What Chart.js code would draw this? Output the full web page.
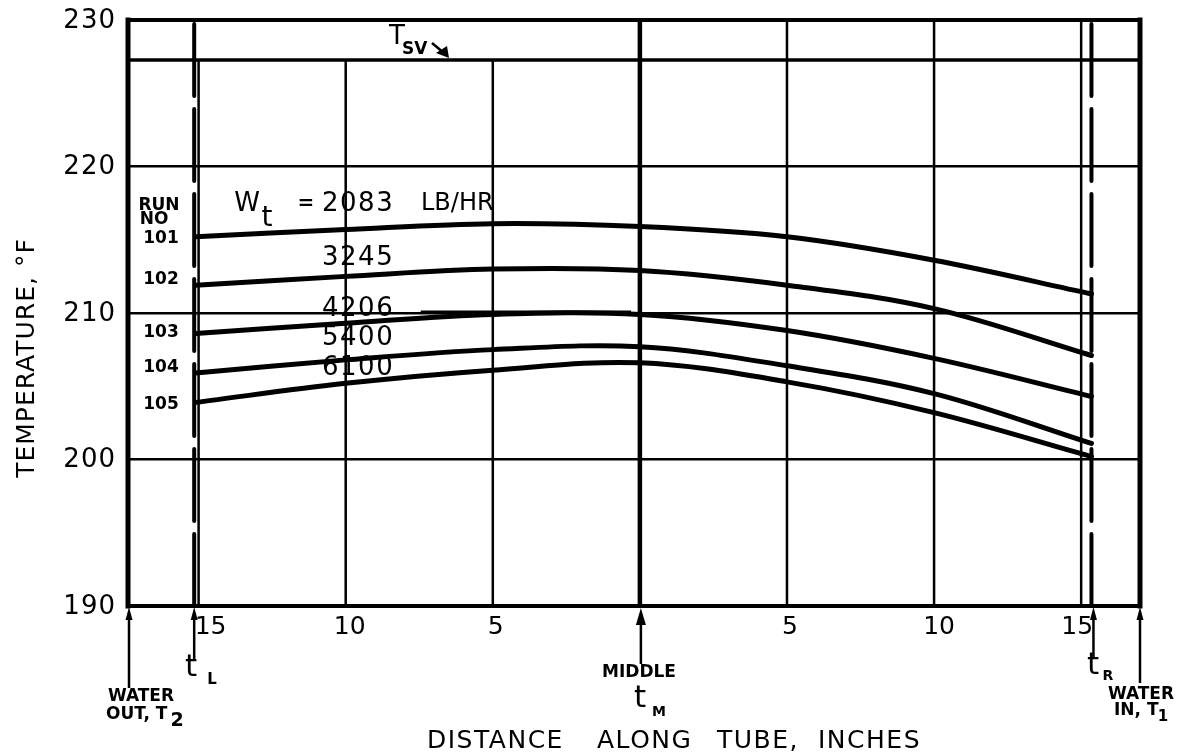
<!DOCTYPE html>
<html>
<head>
<meta charset="utf-8">
<title>Temperature along tube</title>
<style>
  html, body { margin: 0; padding: 0; background: #fff; }
  #wrap { width: 1178px; height: 756px; position: relative; }
</style>
<script src="https://cdn.jsdelivr.net/npm/chart.js@4.4.1/dist/chart.umd.min.js"></script>
</head>
<body>
<div id="wrap"><canvas id="chart" width="1178" height="756"></canvas></div>
<script>
// Distance from the middle of the tube, inches (negative = water-out end)
const distances = [-15.1, -10, -5, 0, 5, 10, 15.35];

// Water temperature along the tube, deg F, one array per run
const run101 = [215.2, 215.7, 216.1, 215.9, 215.2, 213.6, 211.3];
const run102 = [211.9, 212.5, 213.0, 212.9, 211.9, 210.3, 207.1];
const run103 = [208.6, 209.3, 209.9, 209.9, 208.8, 206.9, 204.3];
const run104 = [205.9, 206.8, 207.5, 207.7, 206.4, 204.5, 201.1];
const run105 = [203.9, 205.2, 206.1, 206.6, 205.3, 203.2, 200.2];

const runNumbers = ['101', '102', '103', '104', '105'];
const flowRates = ['2083', '3245', '4206', '5400', '6100'];

// Axis ticks
const tempTicks = [190, 200, 210, 220, 230];
const distTicks = [-15, -10, -5, 5, 10, 15];

// Saturated vapour temperature and thermocouple stations
const tSV = 227.27;
const tL = -15.15;
const tR = 15.35;
const xMin = -17.4;
const xMax = 17.0;
const yMin = 190;
const yMax = 230;

// Vertical guide lines: [distance, top temperature]
const guideLines = [[-15, tSV], [-10, tSV], [-5, tSV], [5, yMax], [10, yMax], [15, yMax]];

const FONT = '"DejaVu Sans", "Liberation Sans", sans-serif';

function curve(values) {
  return {
    data: distances.map((d, i) => ({ x: d, y: values[i] })),
    borderColor: '#000',
    borderWidth: 5,
    pointRadius: 0,
    tension: 0.35,
    borderCapStyle: 'round',
    borderJoinStyle: 'round',
    clip: false,
    order: 1
  };
}

function straight(points, width, dash) {
  return {
    data: points.map(p => ({ x: p[0], y: p[1] })),
    borderColor: '#000',
    borderWidth: width,
    borderDash: dash || [],
    borderCapStyle: dash ? 'round' : 'butt',
    pointRadius: 0,
    tension: 0,
    clip: false,
    order: 2
  };
}

const datasets = [
  ...guideLines.map(g => straight([[g[0], yMin], [g[0], g[1]]], 2.5)),
  straight([[0, yMin], [0, yMax]], 4.5),
  straight([[xMin, tSV], [xMax, tSV]], 3.5),
  straight([[tL, yMin], [tL, yMax]], 4, [72, 13]),
  straight([[tR, yMin], [tR, yMax]], 4, [72, 13]),
  // leader from the 4206 label
  straight([[-7.45, 210.05], [-0.3, 210.05]], 3.5),
  curve(run101), curve(run102), curve(run103), curve(run104), curve(run105)
];

function text(ctx, s, x, y, size, opts) {
  opts = opts || {};
  ctx.font = (opts.bold ? 'bold ' : '') + size + 'px ' + FONT;
  ctx.letterSpacing = (opts.ls || 0) + 'px';
  ctx.textAlign = opts.align || 'center';
  ctx.textBaseline = 'middle';
  ctx.fillText(s, x, y);
}

function arrowUp(ctx, x, yTip, yTail, headLen, headW) {
  ctx.lineWidth = 2.5;
  ctx.beginPath();
  ctx.moveTo(x, yTail);
  ctx.lineTo(x, yTip + headLen - 2);
  ctx.stroke();
  ctx.beginPath();
  ctx.moveTo(x, yTip);
  ctx.lineTo(x - headW / 2, yTip + headLen);
  ctx.lineTo(x + headW / 2, yTip + headLen);
  ctx.closePath();
  ctx.fill();
}

const annotations = {
  id: 'annotations',
  afterDraw(chart) {
    const { ctx, chartArea: a, scales } = chart;
    const X = v => scales.x.getPixelForValue(v);
    const Y = v => scales.y.getPixelForValue(v);
    ctx.save();
    ctx.strokeStyle = '#000';
    ctx.fillStyle = '#000';

    // frame
    ctx.lineCap = 'square';
    ctx.lineWidth = 4;
    ctx.beginPath();
    ctx.moveTo(a.left, a.top); ctx.lineTo(a.right, a.top);
    ctx.moveTo(a.left, a.bottom); ctx.lineTo(a.right, a.bottom);
    ctx.stroke();
    ctx.lineWidth = 5;
    ctx.beginPath();
    ctx.moveTo(a.left, a.top); ctx.lineTo(a.left, a.bottom);
    ctx.moveTo(a.right, a.top); ctx.lineTo(a.right, a.bottom);
    ctx.stroke();
    ctx.lineCap = 'butt';

    // temperature tick labels
    tempTicks.forEach(t => text(ctx, String(t), 116, Y(t) + 1, 26, { align: 'right', ls: 1 }));

    // distance tick labels (absolute distance from the middle)
    const nudge = { '-15': 12, '-10': 4, '-5': 3, '5': 3, '10': 5, '15': -4 };
    distTicks.forEach(d => text(ctx, String(Math.abs(d)), X(d) + nudge[d], a.bottom + 21, 25));

    // axis titles
    ctx.save();
    ctx.translate(27, 358);
    ctx.rotate(-Math.PI / 2);
    text(ctx, 'TEMPERATURE, \u00B0F', 0, 0, 25, { ls: 1 });
    ctx.restore();
    const words = [['DISTANCE', 427], ['ALONG', 597], ['TUBE,', 717], ['INCHES', 818]];
    words.forEach(w => text(ctx, w[0], w[1], 741, 25, { align: 'left', ls: 1.5 }));

    // saturated vapour label
    text(ctx, 'T', 397, 37, 26);
    text(ctx, 'SV', 402, 50, 17, { bold: true, align: 'left' });
    ctx.lineWidth = 2.5;
    ctx.beginPath();
    ctx.moveTo(432, 43); ctx.lineTo(444, 53);
    ctx.stroke();
    ctx.beginPath();
    ctx.moveTo(449, Y(tSV) - 2); ctx.lineTo(436, 53); ctx.lineTo(447, 46);
    ctx.closePath(); ctx.fill();

    // run numbers
    text(ctx, 'RUN', 159, 206, 17, { bold: true });
    text(ctx, 'NO', 154, 220, 17, { bold: true });
    const runY = [239, 280, 333, 368, 405];
    runNumbers.forEach((r, i) => text(ctx, r, 161, runY[i], 17, { bold: true }));

    // flow rate labels
    text(ctx, 'W', 247, 204, 26);
    text(ctx, 't', 267, 219, 28);
    text(ctx, '=', 306, 204, 20, { bold: true });
    const flowY = [204, 258, 309, 338, 368];
    flowRates.forEach((f, i) => text(ctx, f, 322, flowY[i], 26, { align: 'left', ls: 1.5 }));
    text(ctx, 'LB/HR', 421, 204, 24, { align: 'left' });

    // stations under the axis
    arrowUp(ctx, a.left + 1, a.bottom + 1, 688, 13, 7);
    text(ctx, 'WATER', 141, 697, 17, { bold: true });
    text(ctx, 'OUT, T', 106, 715, 17, { bold: true, align: 'left' });
    text(ctx, '2', 177, 721, 19, { bold: true });

    arrowUp(ctx, X(tL), a.bottom + 1, 661, 13, 7);
    text(ctx, 't', 191, 668, 31);
    text(ctx, 'L', 212, 680, 15, { bold: true });

    arrowUp(ctx, X(0) + 1, a.bottom + 2, 664, 17, 10);
    text(ctx, 'MIDDLE', 639, 673, 17, { bold: true });
    text(ctx, 't', 640, 699, 31);
    text(ctx, 'M', 659, 712, 14, { bold: true });

    arrowUp(ctx, X(tR) + 2, a.bottom + 1, 657, 13, 7);
    text(ctx, 't', 1093, 666, 31);
    text(ctx, 'R', 1108, 676, 14, { bold: true });

    arrowUp(ctx, a.right, a.bottom + 1, 683, 13, 7);
    text(ctx, 'WATER', 1141, 695, 17, { bold: true });
    text(ctx, 'IN, T', 1114, 711, 17, { bold: true, align: 'left' });
    text(ctx, '1', 1163, 717, 15, { bold: true });

    ctx.restore();
  }
};

new Chart(document.getElementById('chart'), {
  type: 'scatter',
  data: { datasets: datasets.map(d => Object.assign({ showLine: true }, d)) },
  options: {
    responsive: false,
    animation: false,
    devicePixelRatio: 1,
    layout: { padding: { left: 128, right: 38, top: 20, bottom: 150 } },
    plugins: { legend: { display: false }, tooltip: { enabled: false } },
    scales: {
      x: { type: 'linear', min: xMin, max: xMax, display: false },
      y: {
        type: 'linear', min: yMin, max: yMax,
        afterBuildTicks: s => { s.ticks = tempTicks.map(v => ({ value: v })); },
        ticks: { display: false },
        grid: { color: '#000', lineWidth: 2.5, drawTicks: false },
        border: { display: false }
      }
    }
  },
  plugins: [annotations]
});
</script>
</body>
</html>
